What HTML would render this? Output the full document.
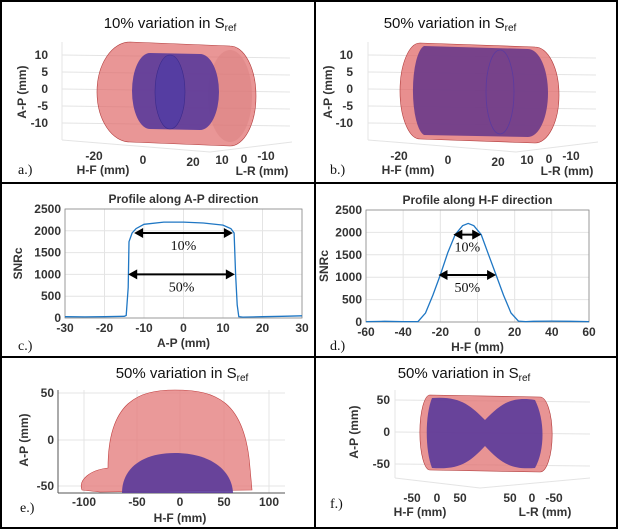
<!DOCTYPE html>
<html><head><meta charset="utf-8"><style>
html,body{margin:0;padding:0;background:#fff}
svg{display:block;font-family:"Liberation Sans",sans-serif}
.tk{font-size:12px;font-weight:bold;fill:#333}
.lb{font-size:12px;font-weight:bold;fill:#333}
.tt{font-size:15px;fill:#111}
.pl{font-family:"Liberation Serif",serif;font-size:14px;fill:#111}
.gr{stroke:#e4e4e4;stroke-width:1}
</style></head><body>
<svg id="fig" width="618" height="530" viewBox="0 0 618 530">
<rect x="1" y="1" width="616" height="527" fill="#fff" stroke="#000" stroke-width="2"/>
<line x1="315" y1="1" x2="315" y2="528" stroke="#000" stroke-width="2"/>
<line x1="1" y1="183" x2="617" y2="183" stroke="#000" stroke-width="2"/>
<line x1="1" y1="357" x2="617" y2="357" stroke="#000" stroke-width="2"/>

<g>
<text class="tt" x="170" y="28" text-anchor="middle">10% variation in S<tspan font-size="10" dy="3">ref</tspan></text>
<g class="gr"><line x1="62" y1="55" x2="290" y2="58"/><line x1="62" y1="72" x2="290" y2="75"/><line x1="62" y1="89" x2="290" y2="92"/><line x1="62" y1="106" x2="290" y2="109"/><line x1="62" y1="123" x2="290" y2="126"/><line x1="62" y1="42" x2="62" y2="140"/><line x1="62" y1="140" x2="210" y2="152"/><line x1="210" y1="152" x2="292" y2="142"/></g>
<text class="tk" x="48" y="59" text-anchor="end">10</text><text class="tk" x="48" y="76" text-anchor="end">5</text><text class="tk" x="48" y="93" text-anchor="end">0</text><text class="tk" x="48" y="110" text-anchor="end">-5</text><text class="tk" x="48" y="127" text-anchor="end">-10</text>
<text class="lb" transform="translate(26,92) rotate(-90)" text-anchor="middle">A-P (mm)</text>
<path d="M130,42 L230,46 A26,50 0 0 1 230,146 L130,142 A33,50 0 0 1 130,42Z" fill="#e06a6a" fill-opacity="0.7" stroke="#b03a3a" stroke-width="0.6"/>
<ellipse cx="230" cy="96" rx="22" ry="46" fill="#d98080" fill-opacity="0.5"/>
<path d="M150,53 L200,54 A19,38 0 0 1 200,130 L150,129 A18,38 0 0 1 150,53Z" fill="#5a3a9a" fill-opacity="0.9"/>
<ellipse cx="170" cy="92" rx="15" ry="37" fill="#4a3aa8" fill-opacity="0.6" stroke="#3a2a8a" stroke-width="0.6"/>
<text class="tk" x="94" y="160" text-anchor="middle">-20</text><text class="tk" x="143" y="164" text-anchor="middle">0</text><text class="tk" x="193" y="166" text-anchor="middle">20</text><text class="tk" x="222" y="164" text-anchor="middle">10</text><text class="tk" x="244" y="163" text-anchor="middle">0</text><text class="tk" x="266" y="160" text-anchor="middle">-10</text>
<text class="lb" x="103" y="174" text-anchor="middle">H-F (mm)</text><text class="lb" x="262" y="175" text-anchor="middle">L-R (mm)</text>
<text class="pl" x="18" y="174">a.)</text>
</g>

<g>
<text class="tt" x="450" y="28" text-anchor="middle">50% variation in S<tspan font-size="10" dy="3">ref</tspan></text>
<g class="gr"><line x1="368" y1="55" x2="596" y2="58"/><line x1="368" y1="72" x2="596" y2="75"/><line x1="368" y1="89" x2="596" y2="92"/><line x1="368" y1="106" x2="596" y2="109"/><line x1="368" y1="123" x2="596" y2="126"/><line x1="368" y1="42" x2="368" y2="140"/><line x1="368" y1="140" x2="516" y2="152"/><line x1="516" y1="152" x2="598" y2="142"/></g>
<text class="tk" x="353" y="59" text-anchor="end">10</text><text class="tk" x="353" y="76" text-anchor="end">5</text><text class="tk" x="353" y="93" text-anchor="end">0</text><text class="tk" x="353" y="110" text-anchor="end">-5</text><text class="tk" x="353" y="127" text-anchor="end">-10</text>
<text class="lb" transform="translate(332,92) rotate(-90)" text-anchor="middle">A-P (mm)</text>
<path d="M420,43 L535,47 A24,48 0 0 1 535,143 L420,139 A20,48 0 0 1 420,43Z" fill="#e06a6a" fill-opacity="0.75" stroke="#b03a3a" stroke-width="0.6"/>
<path d="M424,46 L528,49 A20,44 0 0 1 528,137 L424,135 A13,45 0 0 1 424,46Z" fill="#6a3a8a" fill-opacity="0.9"/>
<ellipse cx="500" cy="92" rx="14" ry="42" fill="none" stroke="#5a3aa0" stroke-width="0.8"/>
<text class="tk" x="399" y="160" text-anchor="middle">-20</text><text class="tk" x="448" y="164" text-anchor="middle">0</text><text class="tk" x="498" y="166" text-anchor="middle">20</text><text class="tk" x="527" y="164" text-anchor="middle">10</text><text class="tk" x="549" y="163" text-anchor="middle">0</text><text class="tk" x="571" y="160" text-anchor="middle">-10</text>
<text class="lb" x="408" y="174" text-anchor="middle">H-F (mm)</text><text class="lb" x="567" y="175" text-anchor="middle">L-R (mm)</text>
<text class="pl" x="330" y="174">b.)</text>
</g>

<g id="chartC"></g>
<g id="chartD"></g>

<g>
<text class="tt" x="182" y="378" text-anchor="middle">50% variation in S<tspan font-size="10" dy="3">ref</tspan></text>
<g class="gr"><line x1="58" y1="393" x2="285" y2="393"/><line x1="58" y1="440" x2="285" y2="440"/><line x1="58" y1="486" x2="285" y2="486"/><line x1="84" y1="390" x2="84" y2="493"/><line x1="137" y1="390" x2="137" y2="493"/><line x1="180" y1="390" x2="180" y2="493"/><line x1="224" y1="390" x2="224" y2="493"/><line x1="269" y1="390" x2="269" y2="493"/></g>
<line x1="58" y1="390" x2="58" y2="493" stroke="#555"/><line x1="58" y1="493" x2="285" y2="493" stroke="#555"/>
<text class="tk" x="54" y="397" text-anchor="end">50</text><text class="tk" x="54" y="444" text-anchor="end">0</text><text class="tk" x="54" y="490" text-anchor="end">-50</text>
<text class="lb" transform="translate(28,440) rotate(-90)" text-anchor="middle">A-P (mm)</text>
<path d="M108,468 C108,400 140,390 175,390 C215,390 245,400 250,468 L252,490 L100,492 L82,490 C78,480 90,470 108,468Z" fill="#e58080" fill-opacity="0.8" stroke="#c04040" stroke-width="0.6"/>
<path d="M122,493 C122,470 140,453 175,453 C210,453 232,470 233,493Z" fill="#5a3a9a" fill-opacity="0.9"/>
<text class="tk" x="84" y="506" text-anchor="middle">-100</text><text class="tk" x="137" y="506" text-anchor="middle">-50</text><text class="tk" x="180" y="506" text-anchor="middle">0</text><text class="tk" x="224" y="506" text-anchor="middle">50</text><text class="tk" x="269" y="506" text-anchor="middle">100</text>
<text class="lb" x="180" y="522" text-anchor="middle">H-F (mm)</text>
<text class="pl" x="20" y="512">e.)</text>
</g>

<g>
<text class="tt" x="464" y="378" text-anchor="middle">50% variation in S<tspan font-size="10" dy="3">ref</tspan></text>
<g class="gr"><line x1="395" y1="400" x2="590" y2="402"/><line x1="395" y1="432" x2="590" y2="434"/><line x1="395" y1="464" x2="590" y2="466"/><line x1="395" y1="390" x2="395" y2="478"/><line x1="395" y1="478" x2="480" y2="488"/><line x1="480" y1="488" x2="590" y2="478"/></g>
<text class="tk" x="390" y="404" text-anchor="end">50</text><text class="tk" x="390" y="436" text-anchor="end">0</text><text class="tk" x="390" y="468" text-anchor="end">-50</text>
<text class="lb" transform="translate(358,432) rotate(-90)" text-anchor="middle">A-P (mm)</text>
<path d="M430,395 L540,397 A12,37 0 0 1 540,472 L430,470 A10,37 0 0 1 430,395Z" fill="#e07070" fill-opacity="0.75" stroke="#b03a3a" stroke-width="0.6"/>
<path d="M432,398 C460,396 470,405 485,420 C500,405 510,396 535,400 C545,420 545,450 535,468 C510,470 500,462 485,446 C470,462 460,470 432,468 C425,450 425,415 432,398Z" fill="#5a3a9a" fill-opacity="0.9"/>
<text class="tk" x="412" y="502" text-anchor="middle">-50</text><text class="tk" x="437" y="502" text-anchor="middle">0</text><text class="tk" x="460" y="502" text-anchor="middle">50</text><text class="tk" x="510" y="502" text-anchor="middle">50</text><text class="tk" x="532" y="502" text-anchor="middle">0</text><text class="tk" x="554" y="502" text-anchor="middle">-50</text>
<text class="lb" x="420" y="516" text-anchor="middle">H-F (mm)</text><text class="lb" x="545" y="516" text-anchor="middle">L-R (mm)</text>
<text class="pl" x="330" y="508">f.)</text>
</g>
</svg>
<script>
const NS="http://www.w3.org/2000/svg";
const cX=[-30,-25,-20,-15,-14.5,-14,-13.8,-13,-12,-10,-5,0,5,10,12,12.8,13.2,13.6,14,15,20,25,30];
const cY=[30,25,30,40,60,700,1750,1950,2050,2150,2200,2200,2180,2130,2050,1950,1000,300,30,20,30,40,50];
const cTicksX=[-30,-20,-10,0,10,20,30];
const cTicksY=[0,500,1000,1500,2000,2500];
const cArrows=[[-12.5,12.5,1950,"10%"],[-14,13,1000,"50%"]];
const dX=[-60,-50,-40,-32,-28,-24,-20,-16,-12,-8,-5,-2,2,6,10,14,18,22,26,30,40,50,60];
const dY=[10,15,10,10,200,600,1050,1550,1950,2150,2200,2150,1950,1500,1050,600,200,20,10,15,20,15,10];
const dTicksX=[-60,-40,-20,0,20,40,60];
const dTicksY=[0,500,1000,1500,2000,2500];
const dArrows=[[-13,2,1950,"10%"],[-21,10,1050,"50%"]];
function el(p,t,a){const e=document.createElementNS(NS,t);for(const k in a)e.setAttribute(k,a[k]);p.appendChild(e);return e;}
function chart(g,o){
  const sx=v=>o.x0+(v-o.xmin)/(o.xmax-o.xmin)*(o.x1-o.x0);
  const sy=v=>o.y1-(v/2500)*(o.y1-o.y0);
  o.tx.forEach(v=>{el(g,"line",{x1:sx(v),x2:sx(v),y1:o.y0,y2:o.y1,stroke:"#e4e4e4"});
    const t=el(g,"text",{x:sx(v),y:o.y1+14,"text-anchor":"middle",class:"tk"});t.textContent=v;
    
    });
  o.ty.forEach(v=>{el(g,"line",{x1:o.x0,x2:o.x1,y1:sy(v),y2:sy(v),stroke:"#e4e4e4"});
    const t=el(g,"text",{x:o.x0-4,y:sy(v)+4,"text-anchor":"end",class:"tk"});t.textContent=v;
    
    });
  el(g,"rect",{x:o.x0,y:o.y0,width:o.x1-o.x0,height:o.y1-o.y0,fill:"none",stroke:"#888","stroke-width":0.8});
  const p=el(g,"path",{d:o.xs.map((v,i)=>(i?"L":"M")+sx(v).toFixed(1)+","+sy(o.ys[i]).toFixed(1)).join(""),fill:"none",stroke:"#1f77c4","stroke-width":1.3});
  
  
  o.ar.forEach(a=>{const y=sy(a[2]),xa=sx(a[0]),xb=sx(a[1]);
    const l=el(g,"line",{x1:xa+6,x2:xb-6,y1:y,y2:y,stroke:"#000","stroke-width":2});
    
    
    el(g,"path",{d:`M${xa},${y}l9,-5v10z M${xb},${y}l-9,-5v10z`,fill:"#000"});
    const t=el(g,"text",{x:(xa+xb)/2,y:y+17,"text-anchor":"middle",class:"pl"});t.textContent=a[3];
    
    });
  const ti=el(g,"text",{x:(o.x0+o.x1)/2,y:o.y0-6,"text-anchor":"middle",class:"lb","font-size":"13"});ti.textContent=o.title;
  
  
  const xl=el(g,"text",{x:(o.x0+o.x1)/2,y:o.y1+29,"text-anchor":"middle",class:"lb"});xl.textContent=o.xl;
  
  
  const yl=el(g,"text",{transform:`translate(${o.yx},${(o.y0+o.y1)/2}) rotate(-90)`,"text-anchor":"middle",class:"lb"});yl.textContent="SNRc";
  
  
  const pl=el(g,"text",{x:o.px,y:o.py,class:"pl"});pl.textContent=o.pl;
  
  
}
chart(document.getElementById("chartC"),{x0:65,x1:302,y0:209,y1:318,xmin:-30,xmax:30,tx:cTicksX,ty:cTicksY,xs:cX,ys:cY,ar:cArrows,title:"Profile along A-P direction",xl:"A-P (mm)",pl:"c.)",px:18,py:350,yx:22});
chart(document.getElementById("chartD"),{x0:366,x1:589,y0:210,y1:322,xmin:-60,xmax:60,tx:dTicksX,ty:dTicksY,xs:dX,ys:dY,ar:dArrows,title:"Profile along H-F direction",xl:"H-F (mm)",pl:"d.)",px:330,py:350,yx:328});
</script>
</body></html>
